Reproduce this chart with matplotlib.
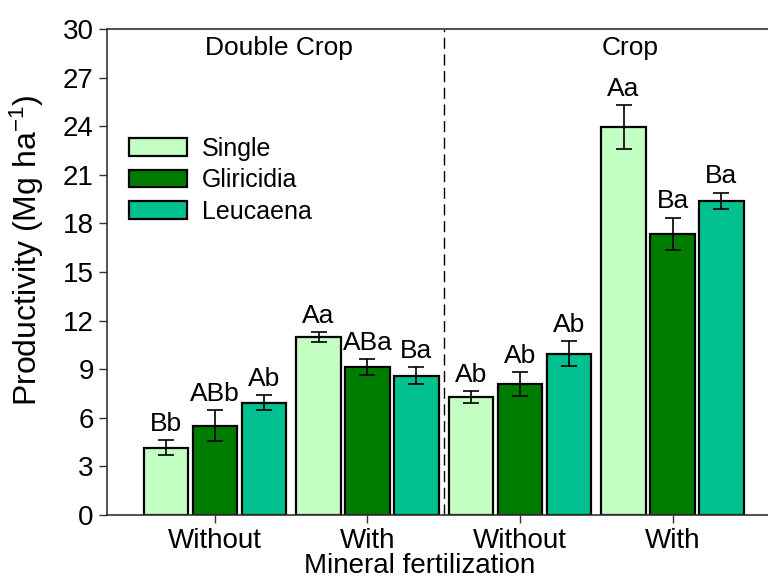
import numpy as np
import matplotlib
matplotlib.use('Agg')
import matplotlib.pyplot as plt

plt.rcParams['font.family'] = ['Liberation Sans', 'DejaVu Sans']
plt.rcParams['mathtext.fontset'] = 'custom'
plt.rcParams['mathtext.rm'] = 'Liberation Sans'
plt.rcParams['mathtext.it'] = 'Liberation Sans'

# Productividad por sistema y fertilización mineral
grupos = ['Without', 'With', 'Without', 'With']
tratamientos = ['Single', 'Gliricidia', 'Leucaena']
single = [4.15, 10.97, 7.28, 23.97]
gliricidia = [5.51, 9.15, 8.09, 17.36]
leucaena = [6.93, 8.60, 9.96, 19.40]
err_single = [0.45, 0.31, 0.38, 1.35]
err_gliricidia = [0.97, 0.50, 0.72, 1.00]
err_leucaena = [0.47, 0.52, 0.78, 0.50]
letras_single = ['Bb', 'Aa', 'Ab', 'Aa']
letras_gliricidia = ['ABb', 'ABa', 'Ab', 'Ba']
letras_leucaena = ['Ab', 'Ba', 'Ab', 'Ba']

colores = ['#c4ffc4', '#007c00', '#00c18f']

fig = plt.figure(figsize=(7.68, 5.79), dpi=100)
ax = fig.add_axes([0.1393, 0.1105, 0.8607, 0.8394])

x = np.arange(len(grupos))
ancho = 0.29
paso = 0.321

series = [(single, err_single, letras_single),
          (gliricidia, err_gliricidia, letras_gliricidia),
          (leucaena, err_leucaena, letras_leucaena)]

for i, (vals, errs, letras) in enumerate(series):
    pos = x + (i - 1) * paso
    ax.bar(pos, vals, width=ancho, color=colores[i], edgecolor='black',
           linewidth=1.6, label=tratamientos[i], zorder=2)
    ax.errorbar(pos, vals, yerr=errs, fmt='none', ecolor='black',
                elinewidth=1.2, capsize=6, capthick=1.2, zorder=3)
    for p, v, e, t in zip(pos, vals, errs, letras):
        ax.annotate(t, (p, v + e), xytext=(0, 3), textcoords='offset points',
                    ha='center', va='bottom', fontsize=19)

# Separación entre sistemas
ax.axvline(1.5, color='black', linestyle=(0, (8, 4)), linewidth=1.0, zorder=1)
ax.text(0.42, 28.8, 'Double Crop', ha='center', va='center', fontsize=19)
ax.text(2.72, 28.8, 'Crop', ha='center', va='center', fontsize=19)

ax.set_xlim(-0.708, 3.626)
ax.set_ylim(0, 30)
ax.set_yticks(np.arange(0, 31, 3))
ax.set_xticks(x)
ax.set_xticklabels(grupos)
ax.tick_params(axis='both', labelsize=20, length=6, width=1, color='#333333')
ax.tick_params(axis='x', pad=3)
ax.spines['right'].set_visible(False)
for s in ['left', 'top', 'bottom']:
    ax.spines[s].set_linewidth(1.2)
    ax.spines[s].set_color('#333333')

ax.set_xlabel('Mineral fertilization', fontsize=20)
ax.xaxis.set_label_coords(0.473, -0.078)
ax.set_ylabel('Productivity (Mg ha$^{-1}$)', fontsize=23)
ax.yaxis.set_label_coords(-0.092, 0.545)

ax.legend(loc='upper left', bbox_to_anchor=(0.0, 0.825), frameon=False,
          fontsize=18, handlelength=2.3, handleheight=0.7, labelspacing=0.3,
          handletextpad=0.6)

fig.savefig('out.png', dpi=100)
